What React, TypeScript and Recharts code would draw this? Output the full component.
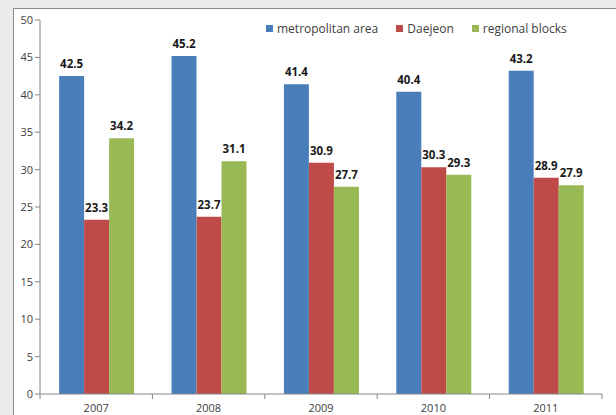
import { BarChart, Bar, XAxis, YAxis, LabelList } from 'recharts';

const years = ['2007', '2008', '2009', '2010', '2011'];
const metropolitan = [42.5, 45.2, 41.4, 40.4, 43.2];
const daejeon = [23.3, 23.7, 30.9, 30.3, 28.9];
const regional = [34.2, 31.1, 27.7, 29.3, 27.9];
const yTicks = [0, 5, 10, 15, 20, 25, 30, 35, 40, 45, 50];

const seriesInfo = [
  { key: 'metropolitan', name: 'metropolitan area', color: '#4A7EBB' },
  { key: 'daejeon', name: 'Daejeon', color: '#BE4B48' },
  { key: 'regional', name: 'regional blocks', color: '#98B954' },
];

const data = years.map((year, i) => ({
  year,
  metropolitan: metropolitan[i],
  daejeon: daejeon[i],
  regional: regional[i],
}));

const FONT = '"Open Sans", "Liberation Sans", sans-serif';

// year label under the category, tick marks on the category boundaries
const YearTick = (props: any) => {
  const { x, y, payload, index } = props;
  const half = payload?.offset ?? 56;
  return (
    <g>
      <line x1={x - half} y1={y} x2={x - half} y2={y + 5} stroke="#868686" />
      {index === years.length - 1 && (
        <line x1={x + half} y1={y} x2={x + half} y2={y + 5} stroke="#868686" />
      )}
      <text x={x} y={y} dy={18} textAnchor="middle" fill="#404040" fontSize={11} fontFamily={FONT}>
        {payload.value}
      </text>
    </g>
  );
};

export default function App() {
  return (
    <div style={{ position: 'absolute', left: 0, top: 0, width: 616, height: 415, background: '#ebebeb', overflow: 'hidden' }}>
      <div
        style={{
          position: 'absolute',
          left: 13,
          top: 8,
          width: 610,
          height: 420,
          background: '#fff',
          borderLeft: '1px solid #8a8a8a',
          borderTop: '1px solid #8a8a8a',
        }}
      >
        <BarChart
          width={602}
          height={406}
          data={data}
          margin={{ top: 11, right: 14, bottom: 0, left: 0 }}
          barCategoryGap="17%"
          barGap={0}
        >
          <XAxis
            dataKey="year"
            height={21}
            axisLine={{ stroke: '#868686' }}
            tickLine={false}
            tickSize={0}
            tickMargin={0}
            tick={<YearTick />}
            interval={0}
          />
          <YAxis
            width={26}
            domain={[0, 50]}
            ticks={yTicks}
            interval={0}
            axisLine={{ stroke: '#868686' }}
            tickLine={{ stroke: '#868686' }}
            tickSize={5}
            tick={{ fill: '#404040', fontSize: 11, fontFamily: FONT }}
          />
          {seriesInfo.map((s) => (
            <Bar key={s.key} dataKey={s.key} name={s.name} fill={s.color} isAnimationActive={false}>
              <LabelList
                dataKey={s.key}
                position="top"
                offset={8}
                fill="#1a1a1a"
                fontSize={11.5}
                fontWeight="bold"
                fontFamily={FONT}
                formatter={(v: any) => Number(v).toFixed(1)}
              />
            </Bar>
          ))}
        </BarChart>
        <div
          style={{
            position: 'absolute',
            left: 252,
            top: 11,
            display: 'flex',
            gap: 18,
            fontFamily: FONT,
            fontSize: 12,
            color: '#404040',
            whiteSpace: 'nowrap',
          }}
        >
          {seriesInfo.map((s) => (
            <div key={s.key} style={{ display: 'flex', alignItems: 'center' }}>
              <span style={{ display: 'inline-block', width: 7, height: 7, background: s.color, marginRight: 4 }} />
              {s.name}
            </div>
          ))}
        </div>
      </div>
    </div>
  );
}
